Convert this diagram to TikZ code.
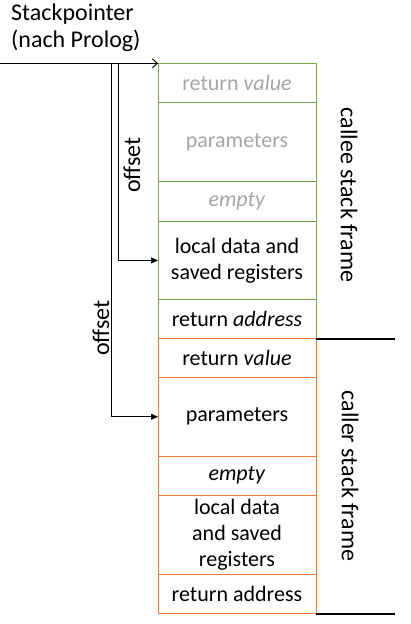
\documentclass[tikz,border=0pt]{standalone}
\usepackage{fontspec}
\setmainfont{Carlito}
\usetikzlibrary{arrows.meta}
\definecolor{grn}{HTML}{70AD47}
\definecolor{org}{HTML}{ED7D31}
\definecolor{gtxt}{HTML}{A6A6A6}
\begin{document}
\begin{tikzpicture}[x=1pt,y=-1pt,
  txt/.style={font=\fontsize{24}{27}\selectfont, inner sep=0pt, align=center},
  row/.style={draw, line width=1pt, outer sep=0pt, minimum width=158pt, inner sep=0pt, align=center, font=\fontsize{22}{26}\selectfont},
  calleerow/.style={row, draw=grn},
  callerrow/.style={row, draw=org},
  conn/.style={line width=0.9pt},
  sep/.style={line width=1.8pt}]
\useasboundingbox (0,0) rectangle (411,624);
% callee frame
\node[calleerow, text=gtxt, minimum height=39.3pt, anchor=north west] (e1) at (158,63.3) {return \textit{value}};
\node[calleerow, text=gtxt, minimum height=79pt, anchor=north west] (e2) at (e1.south west) {parameters};
\node[calleerow, text=gtxt, minimum height=39.7pt, anchor=north west] (e3) at (e2.south west) {\textit{empty}};
\node[calleerow, minimum height=78.3pt, anchor=north west] (e4) at (e3.south west) {local data and\\saved registers};
\node[calleerow, minimum height=39pt, anchor=north west] (e5) at (e4.south west) {return \textit{address}};
% caller frame
\node[callerrow, minimum height=39pt, anchor=north west] (r1) at (e5.south west) {return \textit{value}};
\node[callerrow, minimum height=78.4pt, anchor=north west] (r2) at (r1.south west) {parameters};
\node[callerrow, minimum height=39.3pt, anchor=north west] (r3) at (r2.south west) {\textit{empty}};
\node[callerrow, minimum height=79pt, anchor=north west] (r4) at (r3.south west) {local data\\and saved\\registers};
\node[callerrow, minimum height=39.3pt, anchor=north west] (r5) at (r4.south west) {return address};
% separators
\draw[sep] (e5.south east) -- ++(79,0);
\draw[sep] (r5.south east) -- ++(79,0);
% frame labels
\node[txt, rotate=-90] (lcallee) at (349,195) {callee stack frame};
\node[txt, rotate=-90] (lcaller) at (350,476) {caller stack frame};
% stack pointer
\node[txt, align=left, anchor=north west] (sp) at (11,4) {Stackpointer\\(nach Prolog)};
\coordinate (start) at (0,63.3);
\coordinate (b1) at (111,63.3);
\coordinate (b2) at (118,63.3);
\draw[conn, -{Straight Barb[length=5pt,width=9pt]}] (start) -- (e1.north west);
\draw[conn, -{Triangle[length=7pt,width=6pt]}] (b2) |- (e4.west);
\draw[conn, -{Triangle[length=7pt,width=6pt]}] (b1) |- (r2.west);
\node[txt, rotate=90] (off1) at (132,165) {offset};
\node[txt, rotate=90] (off2) at (101,328) {offset};
\end{tikzpicture}
\end{document}
